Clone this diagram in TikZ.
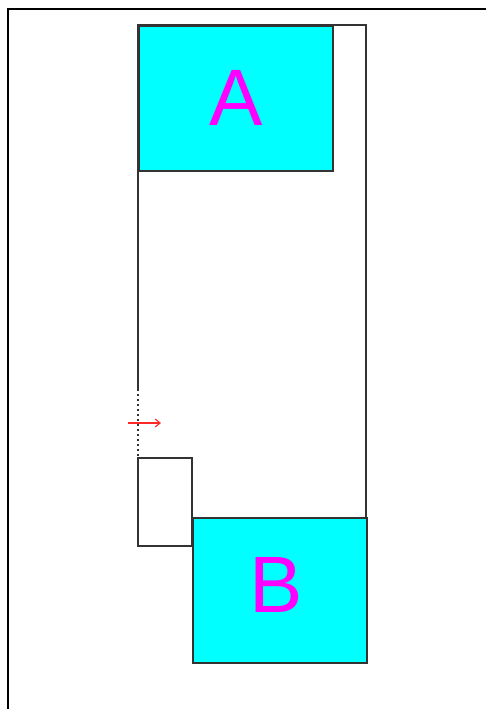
\documentclass[tikz,border=0pt]{standalone}
\usepackage{fontspec}
\setmainfont{Liberation Sans}
\usetikzlibrary{arrows.meta}
\definecolor{boxcyan}{RGB}{0,255,255}
\definecolor{lettermag}{RGB}{255,0,255}
\definecolor{arrowred}{RGB}{255,40,40}
\definecolor{linegray}{RGB}{51,51,51}
\begin{document}
\begin{tikzpicture}[x=1pt,y=-1pt,
  edge/.style={draw=linegray,line width=1.5pt},
  cyanbox/.style={draw=linegray,line width=1.6pt,fill=boxcyan},
  letter/.style={text=lettermag,font=\fontsize{80}{90}\selectfont,inner sep=0pt}]
\useasboundingbox (0,0) rectangle (486,709);
% outer frame
\coordinate (f1) at (8,709);
\coordinate (f2) at (8,9);
\coordinate (f3) at (486,9);
\draw[black,line width=1.6pt] (f1) -- (f2) -- (f3);
% tall outline
\coordinate (tl) at (138,25);
\coordinate (tr) at (366,25);
\coordinate (br) at (366,517);
\coordinate (ls) at (138,389);
\coordinate (ld) at (138,458);
\draw[edge] (ls) -- (tl) -- (tr) -- (br);
\draw[linegray,line width=1.6pt,dash pattern=on 2pt off 3pt] (ls) -- (ld);
% small box
\draw[edge] (138,458) rectangle (192,546);
% boxes
\node[cyanbox,minimum width=194pt,minimum height=145pt,anchor=north west,inner sep=0pt] (A) at (138,25) {};
\node[cyanbox,minimum width=174pt,minimum height=145pt,anchor=north west,inner sep=0pt] (B) at (192,517) {};
\node[letter] (la) at (236,97.5) {A};
\node[letter] (lb) at (276.5,584.5) {B};
% arrow
\coordinate (a1) at (128,423);
\coordinate (a2) at (161,423);
\draw[arrowred,line width=1.1pt,-{Straight Barb[length=5pt,width=8pt]}] (a1) -- (a2);
\end{tikzpicture}
\end{document}
